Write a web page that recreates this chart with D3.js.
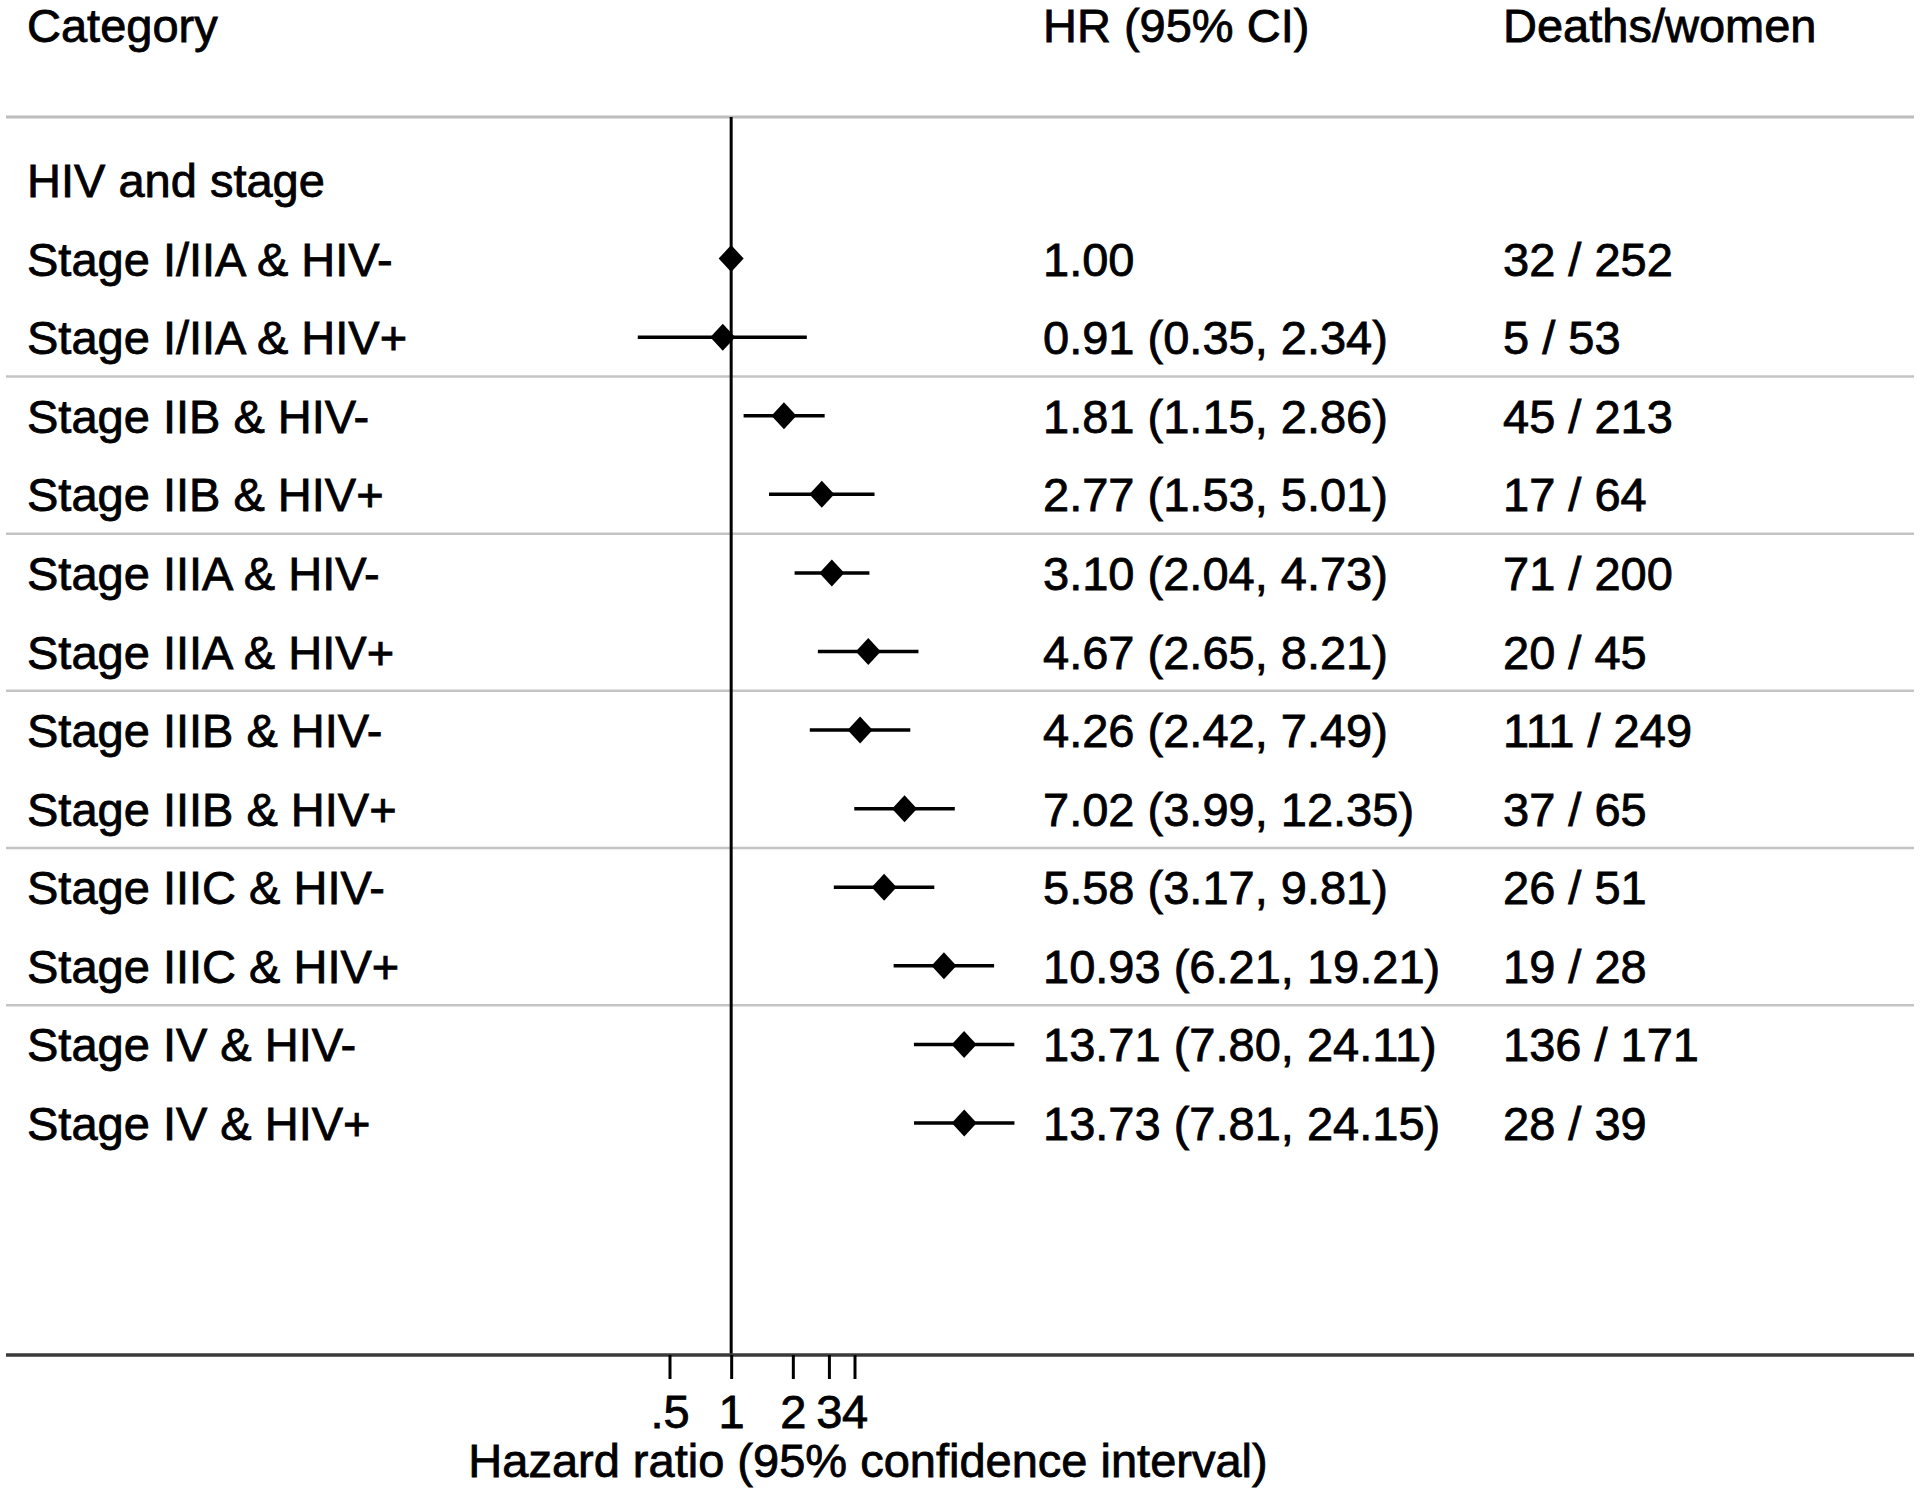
<!DOCTYPE html>
<html>
<head>
<meta charset="utf-8">
<script src="https://cdn.jsdelivr.net/npm/d3@7"></script>
<style>
  html, body { margin: 0; padding: 0; background: #fff; }
  svg { display: block; }
  text { font-family: "Liberation Sans", Arial, Helvetica, sans-serif; fill: #000; stroke: #000; stroke-width: 0.8px; }
</style>
</head>
<body>
<svg id="chart" width="1920" height="1494"></svg>
<script>
// ---- Data ----
const groupLabel = "HIV and stage";
const categories = [
  "Stage I/IIA & HIV-", "Stage I/IIA & HIV+",
  "Stage IIB & HIV-", "Stage IIB & HIV+",
  "Stage IIIA & HIV-", "Stage IIIA & HIV+",
  "Stage IIIB & HIV-", "Stage IIIB & HIV+",
  "Stage IIIC & HIV-", "Stage IIIC & HIV+",
  "Stage IV & HIV-", "Stage IV & HIV+"
];
const hr    = [1.00, 0.91, 1.81, 2.77, 3.10, 4.67, 4.26, 7.02, 5.58, 10.93, 13.71, 13.73];
const ciLow = [null, 0.35, 1.15, 1.53, 2.04, 2.65, 2.42, 3.99, 3.17, 6.21, 7.80, 7.81];
const ciHigh= [null, 2.34, 2.86, 5.01, 4.73, 8.21, 7.49, 12.35, 9.81, 19.21, 24.11, 24.15];
const deaths = [32, 5, 45, 17, 71, 20, 111, 37, 26, 19, 136, 28];
const women  = [252, 53, 213, 64, 200, 45, 249, 65, 51, 28, 171, 39];
const tickValues = [0.5, 1, 2, 3, 4];
const tickLabels = [".5", "1", "2", "3", "4"];
const headers = ["Category", "HR (95% CI)", "Deaths/women"];
const xTitle = "Hazard ratio (95% confidence interval)";

// ---- Layout ----
const FS = 47;
const svg = d3.select("#chart");
const x = d3.scaleLog().domain([0.5, 4]).range([669.5, 854.5]);
const y = d3.scaleLinear().domain([0, 12]).range([180, 1123]); // row index 0 = group label
const colLabel = 27, colHR = 1043, colDeaths = 1503;
const topLine = 117, axisY = 1355, lineX0 = 6, lineX1 = 1914;

const fmt = v => v.toFixed(2);
const rows = categories.map((c, i) => ({
  label: c, hr: hr[i], lo: ciLow[i], hi: ciHigh[i],
  hrText: ciLow[i] == null ? fmt(hr[i]) : `${fmt(hr[i])} (${fmt(ciLow[i])}, ${fmt(ciHigh[i])})`,
  dwText: `${deaths[i]} / ${women[i]}`,
  idx: i + 1
}));

// headers
svg.selectAll("text.hdr").data(headers).join("text")
  .attr("class", "hdr")
  .attr("x", (d, i) => [colLabel, colHR, colDeaths][i])
  .attr("y", 42)
  .attr("font-size", FS)
  .text(d => d);

// top gray line
svg.append("line").attr("x1", lineX0).attr("x2", lineX1)
  .attr("y1", topLine).attr("y2", topLine)
  .attr("stroke", "#bdbdbd").attr("stroke-width", 3);

// group separators
const seps = [2.5, 4.5, 6.5, 8.5, 10.5];
svg.selectAll("line.sep").data(seps).join("line")
  .attr("class", "sep")
  .attr("x1", lineX0).attr("x2", lineX1)
  .attr("y1", d => y(d)).attr("y2", d => y(d))
  .attr("stroke", "#c4c4c4").attr("stroke-width", 2.5);

// reference line at HR = 1
svg.append("line").attr("x1", x(1)).attr("x2", x(1))
  .attr("y1", topLine).attr("y2", axisY)
  .attr("stroke", "#000").attr("stroke-width", 3);

// axis line
svg.append("line").attr("x1", lineX0).attr("x2", lineX1)
  .attr("y1", axisY).attr("y2", axisY)
  .attr("stroke", "#3a3a3a").attr("stroke-width", 3.5);

// axis ticks
const axis = d3.axisBottom(x).tickValues(tickValues)
  .tickFormat((d, i) => tickLabels[i]).tickSize(24).tickPadding(16);
const gAxis = svg.append("g").attr("transform", `translate(0,${axisY})`).call(axis);
gAxis.select(".domain").remove();
gAxis.selectAll(".tick line").attr("stroke", "#000").attr("stroke-width", 3);
gAxis.selectAll(".tick text").attr("font-size", FS)
  .attr("font-family", "'Liberation Sans', Arial, sans-serif").attr("fill", "#000");

// axis title
svg.append("text").attr("x", 868).attr("y", 1477)
  .attr("text-anchor", "middle").attr("font-size", FS).text(xTitle);

// group label
svg.append("text").attr("x", colLabel).attr("y", y(0) + 17)
  .attr("font-size", FS).text(groupLabel);

// rows text
const g = svg.selectAll("g.row").data(rows).join("g").attr("class", "row");
g.append("text").attr("x", colLabel).attr("y", d => y(d.idx) + 17)
  .attr("font-size", FS).text(d => d.label);
g.append("text").attr("x", colHR).attr("y", d => y(d.idx) + 17)
  .attr("font-size", FS).text(d => d.hrText);
g.append("text").attr("x", colDeaths).attr("y", d => y(d.idx) + 17)
  .attr("font-size", FS).text(d => d.dwText);

// CI lines
g.filter(d => d.lo != null).append("line")
  .attr("x1", d => x(d.lo)).attr("x2", d => x(d.hi))
  .attr("y1", d => y(d.idx)).attr("y2", d => y(d.idx))
  .attr("stroke", "#000").attr("stroke-width", 3.5);

// diamonds
const dw = 12.5, dh = 13.5;
g.append("path")
  .attr("d", d => {
    const cx = x(d.hr), cy = y(d.idx);
    return `M${cx - dw},${cy} L${cx},${cy - dh} L${cx + dw},${cy} L${cx},${cy + dh} Z`;
  })
  .attr("fill", "#000");
</script>
</body>
</html>
